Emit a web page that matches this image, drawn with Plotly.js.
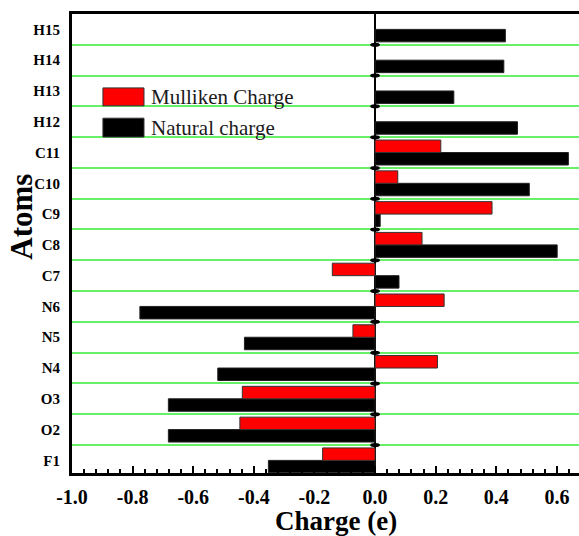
<!DOCTYPE html>
<html>
<head>
<meta charset="utf-8">
<script src="https://cdn.plot.ly/plotly-3.0.1.min.js"></script>
<style>
  html, body { margin: 0; padding: 0; background: #ffffff; }
  #chart { width: 579px; height: 536px; }
</style>
</head>
<body>
<div id="chart"></div>
<script>
// Atoms, listed bottom to top
const atoms = ['F1', 'O2', 'O3', 'N4', 'N5', 'N6', 'C7', 'C8', 'C9', 'C10', 'C11', 'H12', 'H13', 'H14', 'H15'];

// Atomic charges (e)
const mullikenCharge = [-0.173, -0.446, -0.438, 0.206, -0.073, 0.228, -0.141, 0.155, 0.386, 0.075, 0.217, null, null, null, null];
const naturalCharge  = [-0.352, -0.682, -0.682, -0.519, -0.431, -0.776, 0.079, 0.601, 0.017, 0.509, 0.638, 0.47, 0.26, 0.425, 0.43];

const mullikenName = 'Mulliken Charge';
const naturalName = 'Natural charge';

// x-axis ticks
const xTickVals = [-1.0, -0.8, -0.6, -0.4, -0.2, 0.0, 0.2, 0.4, 0.6];
const xTickText = ['-1.0', '-0.8', '-0.6', '-0.4', '-0.2', '0.0', '0.2', '0.4', '0.6'];

const serif = '"Liberation Serif", "Times New Roman", "DejaVu Serif", serif';
const mullikenColor = '#ff0000';
const naturalColor = '#000000';
const gridGreen = 'rgb(105,240,105)';

// Natural first so it sits in the lower half of each category band
const traces = [
  {
    type: 'bar', orientation: 'h', name: naturalName,
    y: atoms, x: naturalCharge,
    marker: { color: naturalColor, line: { color: '#222', width: 1 } },
    showlegend: false, hoverinfo: 'x+y'
  },
  {
    type: 'bar', orientation: 'h', name: mullikenName,
    y: atoms, x: mullikenCharge,
    marker: { color: mullikenColor, line: { color: '#333', width: 1 } },
    showlegend: false, hoverinfo: 'x+y'
  }
];

// Small markers on the zero line at each category boundary
const shapes = [];
for (let i = 0; i < atoms.length - 1; i++) {
  shapes.push({
    type: 'circle', xref: 'x', yref: 'y',
    x0: -0.016, x1: 0.016, y0: i + 0.5 - 0.065, y1: i + 0.5 + 0.065,
    fillcolor: '#000', line: { width: 0 }, layer: 'above'
  });
}

// Legend swatches drawn in the plot area
const legendItems = [
  { name: mullikenName, color: mullikenColor, y0: 0.800, y1: 0.839 },
  { name: naturalName, color: naturalColor, y0: 0.732, y1: 0.773 }
];
const annotations = [];
legendItems.forEach(function (it) {
  shapes.push({
    type: 'rect', xref: 'paper', yref: 'paper',
    x0: 0.061, x1: 0.142, y0: it.y0, y1: it.y1,
    fillcolor: it.color, line: { color: '#333', width: 1 }, layer: 'above'
  });
  annotations.push({
    xref: 'paper', yref: 'paper', x: 0.152, y: (it.y0 + it.y1) / 2,
    xanchor: 'left', yanchor: 'middle', showarrow: false,
    text: it.name, font: { family: serif, size: 21, color: '#1a1a1a' }
  });
});

// Axis titles
annotations.push({
  xref: 'paper', yref: 'paper', x: -0.099, y: 0.558,
  xanchor: 'center', yanchor: 'middle', showarrow: false, textangle: -90,
  text: 'Atoms', font: { family: serif, size: 31, color: '#000', weight: 'bold' }
});
annotations.push({
  xref: 'paper', yref: 'paper', x: 0.521, y: -0.104,
  xanchor: 'center', yanchor: 'middle', showarrow: false,
  text: 'Charge (e)', font: { family: serif, size: 27, color: '#000', weight: 'bold' }
});

const layout = {
  width: 579, height: 536,
  margin: { l: 72, r: 0, t: 14, b: 63, pad: 0 },
  paper_bgcolor: '#ffffff', plot_bgcolor: '#ffffff',
  barmode: 'group', bargap: 0.19, bargroupgap: 0,
  showlegend: false,
  font: { family: serif },
  xaxis: {
    range: [-1.0, 0.673],
    showgrid: false,
    zeroline: true, zerolinecolor: '#000', zerolinewidth: 2,
    showline: true, linecolor: '#000', linewidth: 3, mirror: true,
    tickmode: 'array', tickvals: xTickVals, ticktext: xTickText,
    ticks: 'inside', ticklen: 7, tickwidth: 2, tickcolor: '#000',
    minor: { ticks: 'inside', ticklen: 4, tickwidth: 2, tickcolor: '#000', dtick: 0.04, tick0: -1.0, showgrid: false },
    tickfont: { family: serif, size: 20, color: '#000', weight: 'bold' },
    ticklabelstandoff: 4
  },
  yaxis: {
    type: 'category', categoryorder: 'array', categoryarray: atoms,
    range: [-0.41, 14.5],
    tickson: 'boundaries', ticks: '',
    showgrid: true, gridcolor: gridGreen, gridwidth: 2,
    showline: true, linecolor: '#000', linewidth: 3, mirror: false,
    zeroline: false,
    tickfont: { family: serif, size: 15, color: '#000', weight: 'bold' },
    ticklabelstandoff: 6
  },
  shapes: shapes,
  annotations: annotations
};

Plotly.newPlot('chart', traces, layout, { displayModeBar: false, staticPlot: true });
</script>
</body>
</html>
